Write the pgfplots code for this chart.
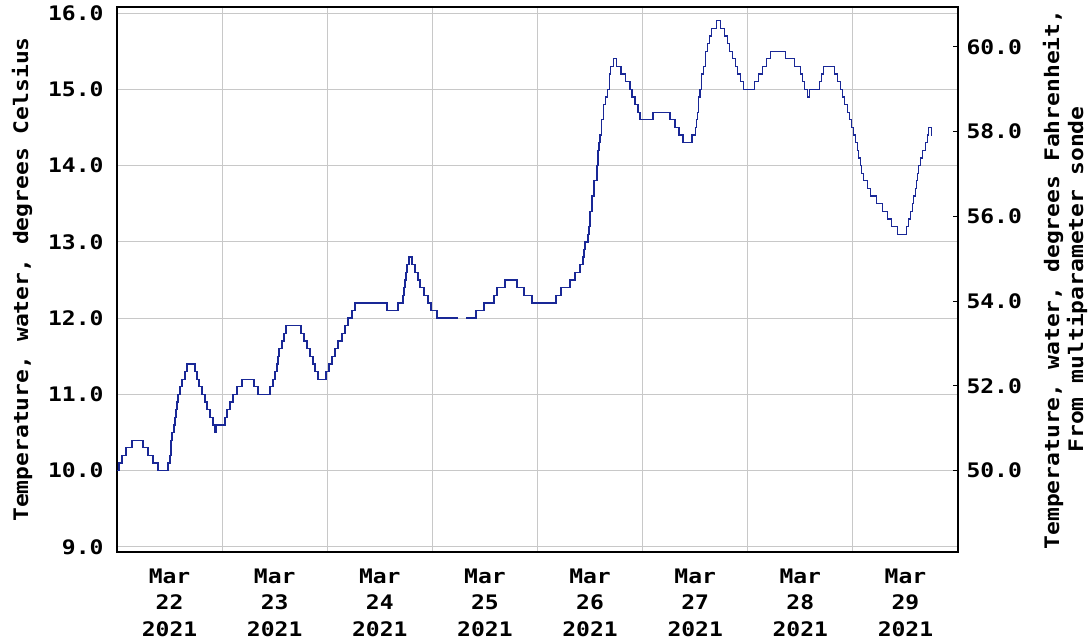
\documentclass[border=0pt]{standalone}
\usepackage{fontspec}
\usepackage{pgfplots}
\pgfplotsset{compat=1.18}
\newfontfamily\px[FakeStretch=1.15]{DejaVu Sans Mono Bold}
\definecolor{usgsline}{RGB}{25,40,150}
\definecolor{gridgray}{RGB}{200,200,200}

% hours since 2021-03-22 00:00, water temperature in deg C
\pgfplotstableread{
h T
0.00 10.0
0.46 10.1
1.14 10.2
2.06 10.3
3.43 10.4
5.94 10.3
7.08 10.2
8.22 10.1
9.36 10.0
11.65 10.1
12.10 10.2
12.33 10.4
12.56 10.5
13.02 10.6
13.24 10.7
13.47 10.8
13.70 10.9
13.93 11.0
14.39 11.1
14.84 11.2
15.53 11.3
15.98 11.4
17.81 11.3
18.27 11.2
18.72 11.1
19.41 11.0
20.09 10.9
20.55 10.8
21.24 10.7
21.92 10.6
22.38 10.5
22.61 10.6
24.66 10.7
25.12 10.8
25.80 10.9
26.49 11.0
27.40 11.1
28.54 11.2
31.28 11.1
32.20 11.0
34.94 11.1
35.62 11.2
36.08 11.3
36.54 11.4
36.76 11.5
36.99 11.6
37.68 11.7
38.13 11.8
38.59 11.9
42.02 11.8
42.70 11.7
43.39 11.6
44.07 11.5
44.76 11.4
45.21 11.3
45.90 11.2
47.73 11.3
48.41 11.4
49.10 11.5
49.78 11.6
50.47 11.7
51.38 11.8
52.07 11.9
52.75 12.0
53.67 12.1
54.35 12.2
61.65 12.1
64.17 12.2
65.31 12.3
65.54 12.4
65.76 12.5
65.99 12.6
66.22 12.7
66.68 12.8
67.36 12.7
68.05 12.6
68.73 12.5
69.19 12.4
70.10 12.3
71.02 12.2
71.70 12.1
73.07 12.0
77.80 12.0
77.87 nan
79.69 12.0
81.98 12.1
83.80 12.2
86.09 12.3
86.77 12.4
88.60 12.5
91.34 12.4
92.94 12.3
94.77 12.2
100.25 12.3
101.39 12.4
103.44 12.5
104.58 12.6
105.73 12.7
106.41 12.8
106.64 12.9
106.87 13.0
107.55 13.1
107.78 13.2
108.01 13.4
108.47 13.6
108.93 13.8
109.61 14.0
109.84 14.2
110.07 14.3
110.30 14.4
110.53 14.6
110.99 14.8
111.45 14.9
111.90 15.0
112.36 15.2
112.59 15.3
113.27 15.4
113.96 15.3
115.09 15.2
116.01 15.1
117.14 15.0
117.60 14.9
118.29 14.8
118.97 14.7
119.43 14.6
122.40 14.7
126.28 14.6
127.42 14.5
128.33 14.4
129.25 14.3
131.30 14.4
131.99 14.5
132.22 14.6
132.45 14.7
132.68 14.9
133.13 15.0
133.36 15.2
133.82 15.3
134.28 15.5
134.73 15.6
135.19 15.7
135.65 15.8
136.79 15.9
137.70 15.8
138.62 15.7
139.31 15.6
139.76 15.5
140.45 15.4
141.13 15.3
141.59 15.2
142.28 15.1
142.96 15.0
145.47 15.1
146.39 15.2
147.30 15.3
148.21 15.4
149.13 15.5
152.55 15.4
154.61 15.3
155.98 15.2
156.43 15.1
156.89 15.0
157.58 14.9
158.03 15.0
160.32 15.1
160.78 15.2
161.23 15.3
163.75 15.2
164.43 15.1
165.12 15.0
165.58 14.9
166.03 14.8
166.72 14.7
167.18 14.6
167.64 14.5
168.09 14.4
168.55 14.3
169.01 14.2
169.23 14.1
169.69 14.0
169.92 13.9
170.37 13.8
171.29 13.7
171.98 13.6
173.35 13.5
174.72 13.4
175.86 13.3
176.77 13.2
178.14 13.1
180.20 13.2
180.63 13.3
181.08 13.4
181.54 13.5
181.77 13.6
182.22 13.7
182.45 13.8
182.68 13.9
182.91 14.0
183.37 14.1
183.82 14.2
184.51 14.3
184.97 14.4
185.19 14.5
185.88 14.4
186.10 14.4
}\tempdata

\begin{document}
\begin{tikzpicture}
\useasboundingbox (0,0) rectangle (1089pt,641pt);
\begin{axis}[
  at={(117pt,89pt)}, anchor=south west,
  width=841pt, height=545pt, scale only axis,
  xmin=0, xmax=192, ymin=8.934, ymax=16.079,
  unbounded coords=jump,
  xtick={24,48,...,168}, xticklabels={},
  extra x ticks={12,36,...,180},
  extra x tick labels={{Mar\\22\\2021},{Mar\\23\\2021},{Mar\\24\\2021},{Mar\\25\\2021},{Mar\\26\\2021},{Mar\\27\\2021},{Mar\\28\\2021},{Mar\\29\\2021}},
  extra x tick style={grid=none, major tick length=0pt},
  xticklabel style={font=\px\fontsize{20}{26.5}\selectfont, align=center, yshift=-13pt},
  ytick={9,...,16}, ytick pos=left,
  yticklabel style={font=\px\fontsize{20}{24}\selectfont, xshift=-10pt,
    /pgf/number format/.cd, fixed, fixed zerofill, precision=1},
  /pgf/number format/assume math mode=true,
  major tick length=0pt,
  grid=major, grid style={gridgray, line width=1pt},
  axis line style={black, line width=2pt},
  ylabel={Temperature, water, degrees Celsius},
  ylabel style={font=\px\fontsize{20}{24}\selectfont, at={(axis description cs:0,0.5)}, anchor=center, yshift=95pt},
]
\addplot[const plot, usgsline, line width=1.3pt] table[x=h, y=T] {\tempdata};
\end{axis}
\begin{axis}[
  at={(117pt,89pt)}, anchor=south west,
  width=841pt, height=545pt, scale only axis,
  xmin=0, xmax=192, ymin=48.08, ymax=60.94,
  axis x line=none, axis y line*=right,
  y axis line style={-, black, line width=2pt},
  ytick={50,52,...,60},
  tick align=inside, major tick length=5pt,
  tick style={black, line width=1pt},
  yticklabel style={font=\px\fontsize{20}{24}\selectfont, xshift=5pt,
    /pgf/number format/.cd, fixed, fixed zerofill, precision=1},
  /pgf/number format/assume math mode=true,
  ylabel={Temperature, water, degrees Fahrenheit,\\From multiparameter sonde},
  ylabel style={font=\px\fontsize{20}{24}\selectfont, align=center, at={(axis description cs:1,0.5)}, anchor=center, yshift=-107pt},
]
\end{axis}
\end{tikzpicture}
\end{document}
